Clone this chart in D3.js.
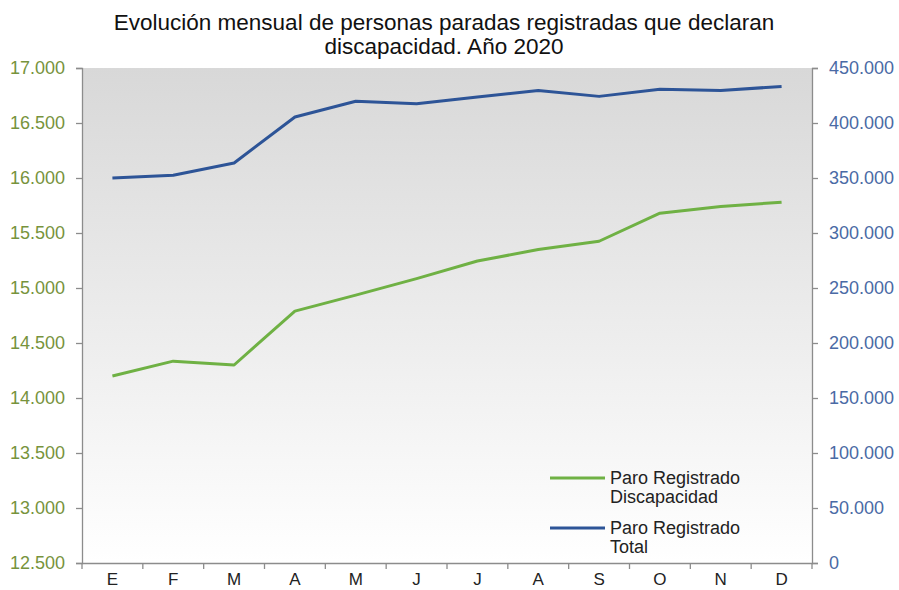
<!DOCTYPE html>
<html>
<head>
<meta charset="utf-8">
<script src="https://cdn.jsdelivr.net/npm/d3@7"></script>
<style>
  body { margin: 0; background: #fff; }
  svg { display: block; font-family: "Liberation Sans", Arial, sans-serif; }
</style>
</head>
<body>
<svg id="chart"></svg>
<script>
// Data
const months = ["E", "F", "M", "A", "M", "J", "J", "A", "S", "O", "N", "D"];
const paroDiscapacidad = [14200, 14335, 14300, 14790, 14935, 15085, 15245, 15350, 15425, 15680, 15740, 15780];
const paroTotal = [350000, 352500, 363700, 405400, 419800, 417600, 423600, 429600, 424200, 430600, 429600, 433200];
const leftTicks = [12500, 13000, 13500, 14000, 14500, 15000, 15500, 16000, 16500, 17000];
const rightTicks = [0, 50000, 100000, 150000, 200000, 250000, 300000, 350000, 400000, 450000];

const W = 899, H = 590;
const margin = { top: 68, right: 87, bottom: 27, left: 82 },
      width = W - margin.left - margin.right,
      height = H - margin.top - margin.bottom;

const svg = d3.select("#chart").attr("width", W).attr("height", H);

// thousands separator with a dot
const fmt = d => d3.format(",")(d).replace(/,/g, ".");

// Background gradient of the plot area
const grad = svg.append("defs").append("linearGradient")
    .attr("id", "bg").attr("x1", 0).attr("y1", 0).attr("x2", 0).attr("y2", 1);
grad.append("stop").attr("offset", "0%").attr("stop-color", "#d8d8d8");
grad.append("stop").attr("offset", "100%").attr("stop-color", "#ffffff");

const g = svg.append("g").attr("transform", `translate(${margin.left},${margin.top})`);

g.append("rect").attr("width", width).attr("height", height).attr("fill", "url(#bg)");

// Scales
const x = d3.scaleBand().domain(d3.range(months.length)).range([0, width]);
const yLeft = d3.scaleLinear().domain([12500, 17000]).range([height, 0]);
const yRight = d3.scaleLinear().domain([0, 450000]).range([height, 0]);

// Axes
const axisColor = "#8c8c8c";

const leftAxis = g.append("g")
    .call(d3.axisLeft(yLeft).tickValues(leftTicks).tickFormat(fmt).tickSize(6).tickPadding(11));
leftAxis.selectAll("text").attr("fill", "#77933c").style("font-size", "18px");

const rightAxis = g.append("g").attr("transform", `translate(${width},0)`)
    .call(d3.axisRight(yRight).tickValues(rightTicks).tickFormat(fmt).tickSize(6).tickPadding(11));
rightAxis.selectAll("text").attr("fill", "#4a6aa5").style("font-size", "18px");

const bottomAxis = g.append("g").attr("transform", `translate(0,${height})`)
    .call(d3.axisBottom(x).tickValues([]).tickSize(0));
// category boundary ticks
bottomAxis.selectAll(".bound")
    .data(d3.range(months.length + 1))
    .enter().append("line")
    .attr("class", "bound")
    .attr("x1", i => i * x.step()).attr("x2", i => i * x.step())
    .attr("y1", 0).attr("y2", 6)
    .attr("stroke", axisColor);
bottomAxis.selectAll(".lbl")
    .data(months)
    .enter().append("text")
    .attr("class", "lbl")
    .attr("x", (d, i) => x(i) + x.bandwidth() / 2)
    .attr("y", 22)
    .attr("text-anchor", "middle")
    .attr("fill", "#222")
    .style("font-size", "17px")
    .text(d => d);

[leftAxis, rightAxis, bottomAxis].forEach(a => {
    a.selectAll("path, line").attr("stroke", axisColor).attr("stroke-width", 1.3);
});

// Lines
const lineLeft = d3.line().x((d, i) => x(i) + x.bandwidth() / 2).y(d => yLeft(d));
const lineRight = d3.line().x((d, i) => x(i) + x.bandwidth() / 2).y(d => yRight(d));

g.append("path").datum(paroDiscapacidad)
    .attr("d", lineLeft)
    .attr("fill", "none").attr("stroke", "#6fb144").attr("stroke-width", 3)
    .attr("stroke-linejoin", "round");

g.append("path").datum(paroTotal)
    .attr("d", lineRight)
    .attr("fill", "none").attr("stroke", "#2d5497").attr("stroke-width", 3)
    .attr("stroke-linejoin", "round");

// Title
const title = svg.append("text")
    .attr("x", 444).attr("text-anchor", "middle")
    .attr("fill", "#111")
    .style("font-family", "'Liberation Sans Narrow', 'Arial Narrow', 'Liberation Sans', Arial, sans-serif")
    .style("font-size", "22.5px");
title.append("tspan").attr("x", 444).attr("y", 30).text("Evolución mensual de personas paradas registradas que declaran");
title.append("tspan").attr("x", 444).attr("y", 54).text("discapacidad. Año 2020");

// Legend
const legendItems = [
    { color: "#6fb144", lines: ["Paro Registrado", "Discapacidad"] },
    { color: "#2d5497", lines: ["Paro Registrado", "Total"] }
];
const legend = svg.selectAll(".legend")
    .data(legendItems)
    .enter().append("g")
    .attr("class", "legend")
    .attr("transform", (d, i) => `translate(550,${478 + i * 50})`);

legend.append("line")
    .attr("x1", 0).attr("x2", 55).attr("y1", 0).attr("y2", 0)
    .attr("stroke", d => d.color).attr("stroke-width", 3);

legend.append("text")
    .attr("fill", "#222")
    .style("font-size", "18px")
    .selectAll("tspan")
    .data(d => d.lines)
    .enter().append("tspan")
    .attr("x", 60)
    .attr("y", (d, i) => 6 + i * 19)
    .text(d => d);
</script>
</body>
</html>
